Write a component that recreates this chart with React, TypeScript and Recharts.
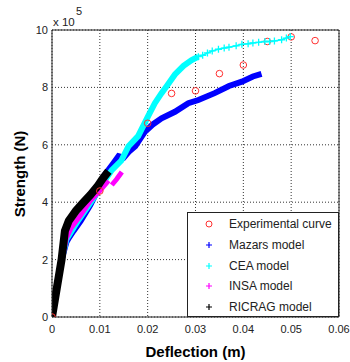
import {
  ComposedChart,
  Line,
  Scatter,
  XAxis,
  YAxis,
  CartesianGrid,
  ReferenceLine,
} from "recharts";

const FONT = '"Liberation Sans", Arial, Helvetica, sans-serif';
const INK = "#222";

const X_TICKS = [0, 0.01, 0.02, 0.03, 0.04, 0.05, 0.06];
const Y_TICKS = [0, 2, 4, 6, 8, 10];

// strength values are in units of 1e5 N (axis shows "x 10^5")
const EXP_X = [0, 0.01, 0.02, 0.025, 0.03, 0.035, 0.04, 0.045, 0.05, 0.055];
const EXP_Y = [0, 4.39, 6.75, 7.79, 7.88, 8.48, 8.78, 9.6, 9.76, 9.63];

const MAZARS_X = [0, 0.002, 0.003, 0.0035, 0.0045, 0.006, 0.008, 0.0095, 0.0108, 0.0128, 0.0139, 0.015, 0.016, 0.0174, 0.0194, 0.021, 0.0229, 0.0257, 0.0285, 0.0306, 0.034, 0.037, 0.0397, 0.042, 0.0438];
const MAZARS_Y = [0, 2.0, 2.6, 2.75, 3.0, 3.35, 3.9, 4.4, 4.9, 5.35, 5.6, 5.55, 5.75, 5.95, 6.45, 6.7, 6.92, 7.15, 7.45, 7.56, 7.8, 8.05, 8.2, 8.38, 8.47];

const CEA_LOW_X = [0, 0.002, 0.003, 0.0055, 0.0075, 0.0093, 0.011, 0.0125, 0.0145, 0.016, 0.018, 0.0201, 0.0215, 0.0229, 0.024, 0.0257, 0.0275, 0.0292, 0.0306];
const CEA_LOW_Y = [0, 2.0, 2.7, 3.37, 3.85, 4.3, 4.75, 5.12, 5.45, 5.95, 6.3, 7.0, 7.45, 7.8, 8.05, 8.45, 8.75, 8.95, 9.07];
const CEA_HIGH_X = [0.0306, 0.0315, 0.0325, 0.0335, 0.0348, 0.036, 0.037, 0.0385, 0.0397, 0.041, 0.042, 0.0432, 0.0445, 0.0455, 0.0465, 0.048, 0.049, 0.0498];
const CEA_HIGH_Y = [9.07, 9.12, 9.2, 9.27, 9.33, 9.37, 9.4, 9.45, 9.5, 9.52, 9.55, 9.57, 9.6, 9.6, 9.62, 9.66, 9.72, 9.77];

const INSA_X = [0, 0.001, 0.002, 0.003, 0.004, 0.006, 0.008, 0.01, 0.0118];
const INSA_Y = [0, 0.9, 1.9, 2.75, 3.1, 3.55, 4.05, 4.4, 4.75];
const INSA_TAIL_X = [0.0125, 0.0135, 0.0146];
const INSA_TAIL_Y = [4.6, 4.8, 5.05];

const RICRAG_X = [0, 0.001, 0.002, 0.0027, 0.0035, 0.005, 0.0065, 0.008, 0.0095, 0.0105, 0.0118];
const RICRAG_Y = [0, 1.0, 2.0, 3.0, 3.35, 3.7, 3.98, 4.25, 4.55, 4.8, 5.08];

const LEGEND = [
  { label: "Experimental curve", color: "#ff0000", kind: "circle" },
  { label: "Mazars model", color: "#0000ff", kind: "plus" },
  { label: "CEA model", color: "#00ffff", kind: "plus" },
  { label: "INSA model", color: "#ff00ff", kind: "plus" },
  { label: "RICRAG model", color: "#000000", kind: "plus" },
];

function zip(xs: number[], ys: number[]) {
  return xs.map((x, i) => ({ x, y: ys[i] }));
}

function PlusDot(props: any) {
  const { cx, cy, stroke } = props;
  if (cx == null || cy == null) return null;
  const s = 3.5;
  return (
    <path
      d={`M${cx - s},${cy}H${cx + s}M${cx},${cy - s}V${cy + s}`}
      stroke={stroke}
      strokeWidth={1.3}
      fill="none"
    />
  );
}

function OpenCircle(props: any) {
  const { cx, cy } = props;
  return <circle cx={cx} cy={cy} r={3.3} fill="none" stroke="#ff3030" strokeWidth={1} />;
}

const tickStyle = { fontSize: 11, fill: INK, fontFamily: FONT };

export default function App() {
  return (
    <div style={{ position: "absolute", left: 0, top: 0, width: 350, height: 362, background: "#fff", fontFamily: FONT }}>
      <ComposedChart width={350} height={362} margin={{ top: 30, right: 11, left: 12, bottom: 0 }}>
        <CartesianGrid stroke="#333" strokeDasharray="1 2" strokeWidth={1} />
        <XAxis
          type="number"
          dataKey="x"
          domain={[0, 0.06]}
          ticks={X_TICKS}
          allowDataOverflow
          height={45}
          tickSize={0}
          tickMargin={8}
          tick={tickStyle}
          tickFormatter={(v: number) => (v === 0 ? "0" : v.toFixed(2))}
          axisLine={{ stroke: INK }}
        />
        <YAxis
          type="number"
          dataKey="y"
          domain={[0, 10]}
          ticks={Y_TICKS}
          allowDataOverflow
          width={40}
          tickSize={0}
          tickMargin={4}
          tick={tickStyle}
          axisLine={{ stroke: INK }}
        />
        <ReferenceLine y={10} stroke={INK} />
        <ReferenceLine x={0.06} stroke={INK} />
        <Scatter data={zip(EXP_X, EXP_Y)} dataKey="y" shape={<OpenCircle />} isAnimationActive={false} />
        <Line data={zip(MAZARS_X, MAZARS_Y)} dataKey="y" stroke="#0000ff" strokeWidth={6} dot={false} isAnimationActive={false} />
        <Line data={zip(CEA_LOW_X, CEA_LOW_Y)} dataKey="y" stroke="#00ffff" strokeWidth={6} dot={false} isAnimationActive={false} />
        <Line data={zip(CEA_HIGH_X, CEA_HIGH_Y)} dataKey="y" stroke="#00ffff" strokeWidth={1.5} dot={<PlusDot />} isAnimationActive={false} />
        <Line data={zip(INSA_X, INSA_Y)} dataKey="y" stroke="#ff00ff" strokeWidth={5} dot={false} isAnimationActive={false} />
        <Line data={zip(INSA_TAIL_X, INSA_TAIL_Y)} dataKey="y" stroke="#ff00ff" strokeWidth={5} dot={false} isAnimationActive={false} />
        <Line data={zip(RICRAG_X, RICRAG_Y)} dataKey="y" stroke="#000000" strokeWidth={8} dot={false} isAnimationActive={false} />
      </ComposedChart>

      {/* exponent */}
      <div style={{ position: "absolute", left: 53, top: 15, fontSize: 11.5, color: INK, lineHeight: "14px" }}>x 10</div>
      <div style={{ position: "absolute", left: 76, top: 4, fontSize: 11, color: INK, lineHeight: "14px" }}>5</div>

      {/* axis titles */}
      <div style={{ position: "absolute", left: 0, width: 391, top: 343, textAlign: "center", fontSize: 15, fontWeight: "bold", color: "#000", lineHeight: "18px" }}>
        Deflection (m)
      </div>
      <div
        style={{
          position: "absolute",
          left: 20,
          top: 174,
          transform: "translate(-50%, -50%) rotate(-90deg)",
          fontSize: 15,
          fontWeight: "bold",
          color: "#000",
          whiteSpace: "nowrap",
          lineHeight: "18px",
        }}
      >
        Strength (N)
      </div>

      {/* legend */}
      <div style={{ position: "absolute", left: 187, top: 212, width: 152, height: 105, boxSizing: "border-box", border: `1px solid ${INK}`, background: "#fff" }}>
        {LEGEND.map((item, i) => (
          <div key={item.label} style={{ position: "absolute", left: 0, top: 11 + i * 20.8 - 9, height: 18, width: 150 }}>
            <svg width={10} height={10} style={{ position: "absolute", left: 16, top: 4 }}>
              {item.kind === "circle" ? (
                <circle cx={5} cy={5} r={3} fill="none" stroke="#ff3030" strokeWidth={1} />
              ) : (
                <path d="M2,5H8M5,2V8" stroke={item.color} strokeWidth={1.2} />
              )}
            </svg>
            <span style={{ position: "absolute", left: 41, top: 1, fontSize: 12, color: INK, lineHeight: "16px", whiteSpace: "nowrap" }}>
              {item.label}
            </span>
          </div>
        ))}
      </div>
    </div>
  );
}
